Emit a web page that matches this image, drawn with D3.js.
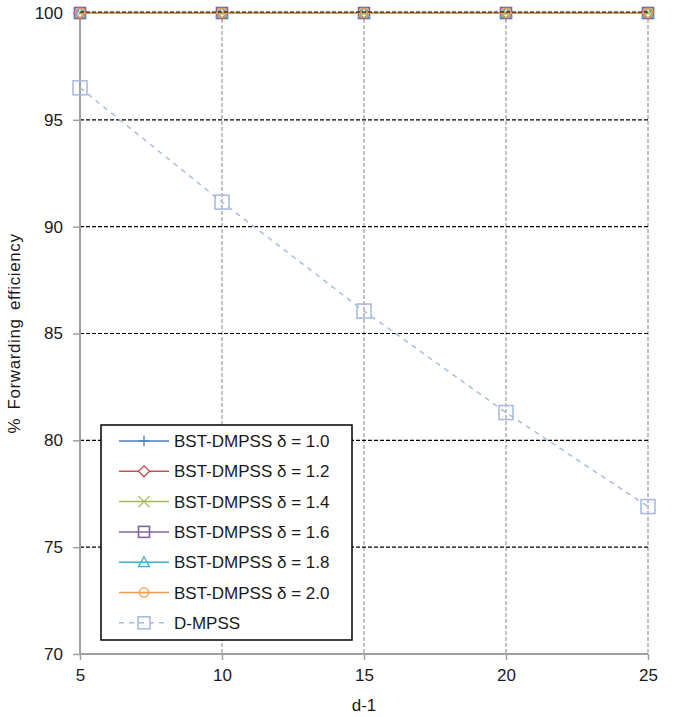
<!DOCTYPE html>
<html><head><meta charset="utf-8">
<script src="https://cdn.jsdelivr.net/npm/d3@7"></script>
<style>body{margin:0;background:#fff}svg{font-family:"Liberation Sans",Arial,sans-serif}</style>
</head><body><svg id="c" width="673" height="717"></svg>
<script>
const xValues = [5, 10, 15, 20, 25];
const seriesNames = ["BST-DMPSS δ = 1.0","BST-DMPSS δ = 1.2","BST-DMPSS δ = 1.4","BST-DMPSS δ = 1.6","BST-DMPSS δ = 1.8","BST-DMPSS δ = 2.0","D-MPSS"];
const bst10 = [100, 100, 100, 100, 100];
const bst12 = [100, 100, 100, 100, 100];
const bst14 = [100, 100, 100, 100, 100];
const bst16 = [100, 100, 100, 100, 100];
const bst18 = [100, 100, 100, 100, 100];
const bst20 = [100, 100, 100, 100, 100];
const dmpss = [96.5, 91.15, 86.05, 81.3, 76.9];
const yTicks = [70, 75, 80, 85, 90, 95, 100];
const xTicks = [5, 10, 15, 20, 25];

const colors = ["#4F81BD","#C0504D","#9BBB59","#8064A2","#4BACC6","#F79646","#A9BCE0"];
const markers = ["plus","diamond","cross","square","triangle","circle","square"];
const allSeries = [bst10,bst12,bst14,bst16,bst18,bst20,dmpss];
const FS = 17;
const TXT = "#1a1a1a";

const svg = d3.select("#c");
const x = d3.scaleLinear().domain([5,25]).range([80,648]);
const y = d3.scaleLinear().domain([70,100]).range([654,13]);

// vertical grid
svg.append("g").selectAll("line").data(xTicks.slice(1)).join("line")
  .attr("x1",d=>x(d)).attr("x2",d=>x(d)).attr("y1",y(100)).attr("y2",y(70))
  .attr("stroke","#999").attr("stroke-dasharray","4,2").attr("stroke-width",1.2);
// horizontal grid
svg.append("g").selectAll("line").data(yTicks.slice(1,-1)).join("line")
  .attr("x1",x(5)).attr("x2",x(25)).attr("y1",d=>y(d)).attr("y2",d=>y(d))
  .attr("stroke","#000").attr("stroke-dasharray","4,2").attr("stroke-width",1.2);

// axes
const yAxis = svg.append("g").attr("transform",`translate(${x(5)},0)`)
  .call(d3.axisLeft(y).tickValues(yTicks).tickSize(7).tickPadding(10));
const xAxis = svg.append("g").attr("transform",`translate(0,${y(70)})`)
  .call(d3.axisBottom(x).tickValues(xTicks).tickSize(6).tickPadding(9));
[yAxis,xAxis].forEach(a=>{
  a.select(".domain").attr("stroke","#a0a0a0").attr("stroke-width",2);
  a.selectAll(".tick line").attr("stroke","#a0a0a0").attr("stroke-width",1.5);
  a.selectAll("text").attr("font-size",FS).attr("fill",TXT).attr("font-family","Liberation Sans, Arial, sans-serif");
});
yAxis.select(".domain").attr("d",`M0,${y(70)}V${y(100)}`);
xAxis.select(".domain").attr("d",`M${x(5)},0H${x(25)}`);

function drawMarker(g, type, color, size){
  const s=size;
  if(type==="plus"){
    g.append("path").attr("d",`M${-s},0H${s}M0,${-s}V${s}`).attr("stroke",color).attr("stroke-width",1.3).attr("fill","none");
  } else if(type==="diamond"){
    g.append("path").attr("d",`M0,${-s}L${s},0L0,${s}L${-s},0Z`).attr("stroke",color).attr("stroke-width",1.3).attr("fill","#fff");
  } else if(type==="cross"){
    g.append("path").attr("d",`M${-s},${-s}L${s},${s}M${-s},${s}L${s},${-s}`).attr("stroke",color).attr("stroke-width",1.3).attr("fill","none");
  } else if(type==="square"){
    g.append("rect").attr("x",-s).attr("y",-s).attr("width",2*s).attr("height",2*s).attr("stroke",color).attr("stroke-width",1.6).attr("fill","none");
  } else if(type==="triangle"){
    g.append("path").attr("d",`M0,${-s}L${s},${s*0.8}L${-s},${s*0.8}Z`).attr("stroke",color).attr("stroke-width",1.3).attr("fill","none");
  } else if(type==="circle"){
    g.append("circle").attr("r",s*0.85).attr("stroke",color).attr("stroke-width",1.3).attr("fill","none");
  }
}

const line = d3.line().x((d,i)=>x(xValues[i])).y(d=>y(d));
allSeries.forEach((vals,si)=>{
  const g = svg.append("g");
  g.append("path").datum(vals).attr("d",line).attr("fill","none")
    .attr("stroke",colors[si]).attr("stroke-width",1.5)
    .attr("stroke-dasharray", si===6?"5,5":null);
  vals.forEach((v,i)=>{
    const mg = g.append("g").attr("transform",`translate(${x(xValues[i])},${y(v)})`);
    drawMarker(mg, markers[si], colors[si], si===6?7:5.5);
  });
});
// top gridline drawn over
svg.append("line").attr("x1",x(5)).attr("x2",x(25)).attr("y1",y(100)-1).attr("y2",y(100)-1)
  .attr("stroke","#000").attr("stroke-dasharray","4,2").attr("stroke-width",1.2);

// axis titles
svg.append("text").attr("x",(x(5)+x(25))/2).attr("y",711).attr("text-anchor","middle")
  .attr("font-size",FS).attr("fill",TXT).text("d-1");
svg.append("text").attr("transform",`translate(20,${(y(70)+y(100))/2}) rotate(-90)`).attr("text-anchor","middle")
  .attr("font-size",FS).attr("letter-spacing",0.6).attr("word-spacing",3).attr("fill",TXT).text("% Forwarding efficiency");

// legend
const lg = svg.append("g").attr("transform","translate(101,425)");
lg.append("rect").attr("width",251).attr("height",215).attr("fill","#fff").attr("stroke","#000").attr("stroke-width",1.5);
seriesNames.forEach((name,i)=>{
  const yy = 16 + i*30.3;
  const row = lg.append("g").attr("transform",`translate(0,${yy})`);
  row.append("line").attr("x1",18).attr("x2",68).attr("y1",0).attr("y2",0)
    .attr("stroke",colors[i]).attr("stroke-width",1.5).attr("stroke-dasharray",i===6?"5,5":null);
  const mg = row.append("g").attr("transform","translate(43,0)");
  drawMarker(mg, markers[i], colors[i], i===6?6:5.5);
  row.append("text").attr("x",73).attr("y",6).attr("font-size",FS).attr("fill",TXT).text(name);
});
</script></body></html>
